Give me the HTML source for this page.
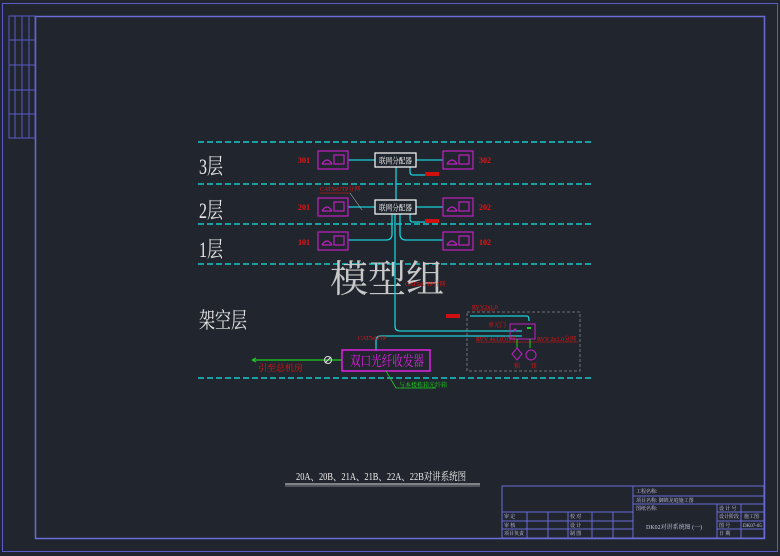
<!DOCTYPE html>
<html><head><meta charset="utf-8"><style>
html,body{margin:0;padding:0;background:#21262e;}
svg{display:block;}
text{font-family:"Liberation Serif","Noto Serif CJK SC","Noto Sans CJK SC",serif;}
</style></head><body>
<svg width="780" height="556" viewBox="0 0 780 556" xmlns="http://www.w3.org/2000/svg">
<rect width="780" height="556" fill="#21262e"/>
<rect x="2.5" y="3.5" width="775" height="548" fill="none" stroke="#5a5ac8" stroke-width="1"/>
<rect x="35.5" y="16.5" width="729" height="522" fill="none" stroke="#6a6ad8" stroke-width="1.5"/>
<g stroke="#5a5ac8" stroke-width="1" fill="none">
<rect x="9" y="16" width="26" height="122"/>
<line x1="15" y1="16" x2="15" y2="138"/><line x1="22" y1="16" x2="22" y2="138"/><line x1="29" y1="16" x2="29" y2="138"/>
<line x1="9" y1="40" x2="35" y2="40"/><line x1="9" y1="65" x2="35" y2="65"/><line x1="9" y1="90" x2="35" y2="90"/><line x1="9" y1="114" x2="35" y2="114"/>
</g>
<g stroke="#19c8c8" stroke-width="1.5" stroke-dasharray="6,3">
<line x1="198" y1="142" x2="592" y2="142"/>
<line x1="198" y1="184" x2="592" y2="184"/>
<line x1="198" y1="224" x2="592" y2="224"/>
<line x1="198" y1="264" x2="592" y2="264"/>
<line x1="198" y1="378" x2="592" y2="378"/>
</g>
<g fill="#e8e8e8" font-size="22">
<text x="199" y="174" textLength="24" lengthAdjust="spacingAndGlyphs">3层</text>
<text x="199" y="218" textLength="24" lengthAdjust="spacingAndGlyphs">2层</text>
<text x="199" y="257" textLength="24" lengthAdjust="spacingAndGlyphs">1层</text>
<text x="199" y="328" textLength="48" lengthAdjust="spacingAndGlyphs">架空层</text>
</g>
<text x="330" y="292" fill="#c8c8c8" font-size="38" font-family="Liberation Sans,'Noto Sans CJK SC',sans-serif">模型组</text>
<g stroke="#19d0d8" stroke-width="1.3" fill="none">
<line x1="348" y1="160" x2="375" y2="160"/><line x1="416" y1="160" x2="443" y2="160"/>
<line x1="348" y1="207" x2="375" y2="207"/><line x1="416" y1="207" x2="443" y2="207"/>
<line x1="396" y1="167" x2="396" y2="200"/>
<path d="M410 167 v5 q0 3 3 3 h13"/>
<path d="M410 214 v5 q0 3 3 3 h13"/>
<path d="M392 214 v20 q0 6 -6 6 h-38"/>
<path d="M400 214 v20 q0 6 6 6 h37"/>
<path d="M395 214 v112 q0 5 5 5 h122"/>
<path d="M386 336 h-5 q-5 0 -5 5 v10"/>
<path d="M386 336 h136"/>
<path d="M470 316 h57 q2 0 2 5"/>
</g>
<g stroke="#c020c0" stroke-width="1.2" fill="none">
<rect x="318" y="151" width="30" height="18"/><rect x="443" y="151" width="30" height="18"/>
<rect x="318" y="198" width="30" height="18"/><rect x="443" y="198" width="30" height="18"/>
<rect x="318" y="232" width="30" height="18"/><rect x="443" y="232" width="30" height="18"/>
<path d="M322 164 q5 -8 10 0 M322 164 h10"/><rect x="334" y="155" width="10" height="9"/>
<path d="M447 164 q5 -8 10 0 M447 164 h10"/><rect x="459" y="155" width="10" height="9"/>
<path d="M322 211 q5 -8 10 0 M322 211 h10"/><rect x="334" y="202" width="10" height="9"/>
<path d="M447 211 q5 -8 10 0 M447 211 h10"/><rect x="459" y="202" width="10" height="9"/>
<path d="M322 245 q5 -8 10 0 M322 245 h10"/><rect x="334" y="236" width="10" height="9"/>
<path d="M447 245 q5 -8 10 0 M447 245 h10"/><rect x="459" y="236" width="10" height="9"/>
</g>
<rect x="375" y="153" width="41" height="14" fill="#21262e" stroke="#fff" stroke-width="1.2"/>
<text x="379" y="163.5" fill="#fff" font-size="8" textLength="33" lengthAdjust="spacingAndGlyphs">联网分配器</text>
<rect x="375" y="200" width="41" height="14" fill="#21262e" stroke="#fff" stroke-width="1.2"/>
<text x="379" y="210.5" fill="#fff" font-size="8" textLength="33" lengthAdjust="spacingAndGlyphs">联网分配器</text>
<g fill="#d01010">
<rect x="425" y="172" width="14" height="4"/><rect x="425" y="219" width="14" height="4"/>
<rect x="446" y="314" width="14" height="4"/>
</g>
<g fill="#ee1111" font-size="8" font-weight="bold">
<text x="298" y="163">301</text><text x="479" y="163">302</text>
<text x="298" y="210">201</text><text x="479" y="210">202</text>
<text x="298" y="245">101</text><text x="479" y="245">102</text>
</g>
<g fill="#ee1111" font-size="6">
<text x="320" y="191">CAT5eUTP分网</text>
<text x="405" y="286">CAT5eUTP分网</text>
<text x="472" y="309">RVV2x1.0</text>
<text x="488" y="327">单元门</text>
<text x="358" y="340">CAT5eUTP</text>
<text x="476" y="341">RVV 4x1.0分网</text>
<text x="537" y="341">RVV 2x1.0分网</text>
<text x="258" y="371" font-size="9">引至总机房</text>
<text x="514" y="368">锁</text><text x="531" y="368">钮</text>
</g>
<line x1="320" y1="193" x2="350" y2="193" stroke="#ee1111" stroke-width="0.6"/>
<line x1="350" y1="193" x2="362" y2="210" stroke="#aaa" stroke-width="0.6"/>
<line x1="472" y1="310" x2="495" y2="310" stroke="#ee1111" stroke-width="0.6"/>
<line x1="476" y1="342" x2="578" y2="342" stroke="#ee1111" stroke-width="0.6"/>
<rect x="467" y="312" width="113" height="59" fill="none" stroke="#888" stroke-width="0.8" stroke-dasharray="3,2"/>
<rect x="510" y="324" width="25" height="15" fill="none" stroke="#c020c0" stroke-width="1"/>
<circle cx="515" cy="330" r="1.5" fill="#c020c0"/>
<rect x="527" y="327" width="4" height="2" fill="#20d020"/>
<g stroke="#20d020" stroke-width="1"><line x1="517" y1="339" x2="517" y2="348"/><line x1="530" y1="339" x2="530" y2="348"/></g>
<path d="M517 348 l5 6 l-5 6 l-5 -6z" fill="none" stroke="#c020c0" stroke-width="1"/>
<circle cx="531" cy="355" r="5" fill="none" stroke="#c020c0" stroke-width="1"/>
<rect x="342" y="350" width="88" height="21" fill="none" stroke="#e020e0" stroke-width="1.5"/>
<text x="350" y="366" fill="#e020e0" font-size="14" textLength="74" lengthAdjust="spacingAndGlyphs">双口光纤收发器</text>
<line x1="252" y1="360" x2="342" y2="360" stroke="#20d020" stroke-width="1.3"/>
<path d="M252 360 l4 -2 M252 360 l4 2" stroke="#20d020"/>
<circle cx="328" cy="360" r="3.5" fill="none" stroke="#ddd" stroke-width="1"/>
<line x1="325" y1="363" x2="331" y2="357" stroke="#ddd"/>
<path d="M386 371 l10 17 h40" fill="none" stroke="#20d020" stroke-width="0.8"/>
<text x="399" y="387" fill="#20d020" font-size="6">与本楼栋箱光纤箱</text>
<text x="296" y="480" fill="#f0f0f0" font-size="11" textLength="170" lengthAdjust="spacingAndGlyphs">20A、20B、21A、21B、22A、22B对讲系统图</text>
<line x1="285" y1="484" x2="480" y2="484" stroke="#ddd" stroke-width="1"/>
<line x1="285" y1="486" x2="480" y2="486" stroke="#ddd" stroke-width="0.6"/>
<g stroke="#6a6ad8" stroke-width="1" fill="none">
<rect x="502" y="486" width="262" height="52"/>
<line x1="633" y1="486" x2="633" y2="538"/>
<line x1="633" y1="496" x2="764" y2="496"/><line x1="633" y1="504" x2="764" y2="504"/>
<line x1="502" y1="512" x2="633" y2="512"/><line x1="502" y1="521" x2="633" y2="521"/><line x1="502" y1="529" x2="633" y2="529"/>
<line x1="717" y1="512" x2="764" y2="512"/><line x1="717" y1="521" x2="764" y2="521"/><line x1="717" y1="529" x2="764" y2="529"/>
<line x1="717" y1="504" x2="717" y2="538"/><line x1="741" y1="504" x2="741" y2="538"/>
<line x1="527" y1="512" x2="527" y2="538"/><line x1="548" y1="512" x2="548" y2="538"/><line x1="568" y1="512" x2="568" y2="538"/>
<line x1="592" y1="512" x2="592" y2="538"/><line x1="613" y1="512" x2="613" y2="538"/>
</g>
<g fill="#c8c8e8" font-size="5">
<text x="636" y="493">工程名称:</text>
<text x="636" y="502">项目名称:  御锦龙庭施工图</text>
<text x="636" y="510">图纸名称:</text>
<text x="646" y="529" font-size="6">DK02对讲系统图 (一)</text>
<text x="719" y="510">设 计 号</text><text x="719" y="518">设计阶段</text>
<text x="719" y="527">图    号</text><text x="719" y="535">日    期</text>
<text x="744" y="518">施工图</text><text x="743" y="527">DK07-05</text>
<text x="504" y="518">审   定</text><text x="504" y="527">审   核</text><text x="504" y="535">项目负责</text>
<text x="570" y="518">校   对</text><text x="570" y="527">设   计</text><text x="570" y="535">制   图</text>
</g>
</svg>
</body></html>
